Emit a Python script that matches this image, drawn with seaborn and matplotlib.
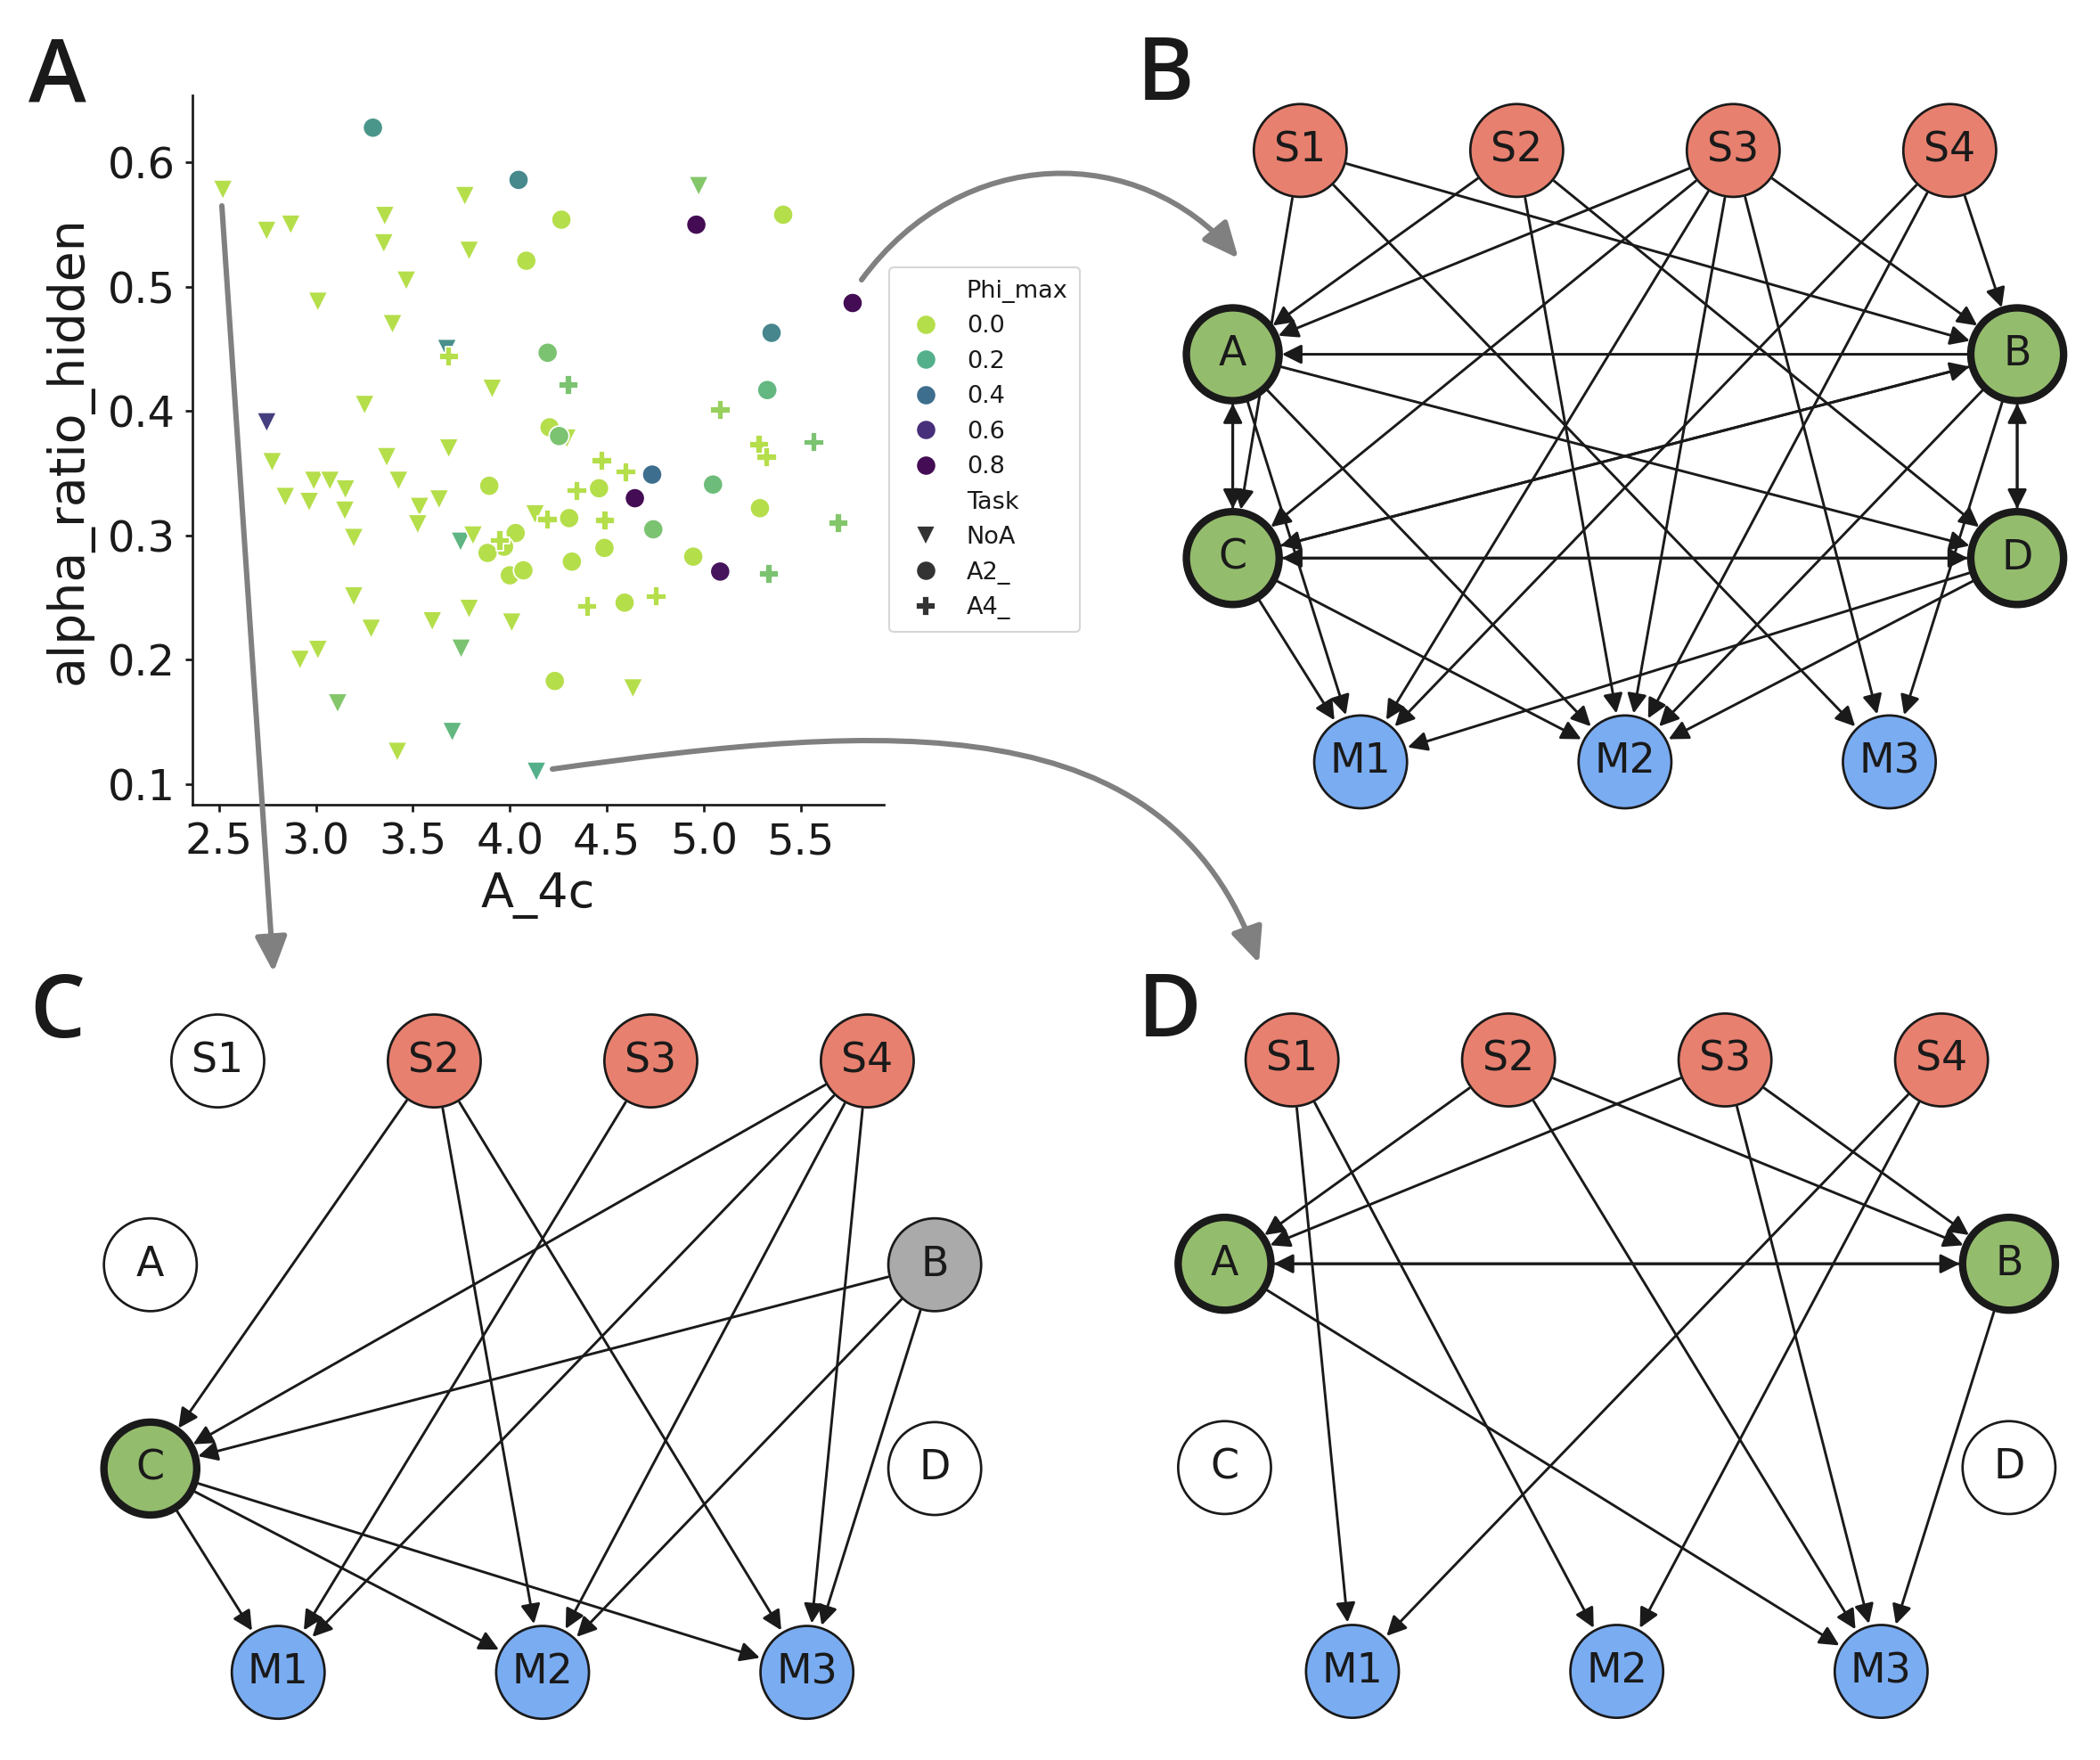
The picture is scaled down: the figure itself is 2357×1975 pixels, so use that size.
import numpy as np
import pandas as pd
import matplotlib
matplotlib.use("Agg")
import matplotlib.pyplot as plt
from matplotlib.colors import LinearSegmentedColormap
from matplotlib.patches import FancyArrowPatch, ArrowStyle
from matplotlib.lines import Line2D
from matplotlib.path import Path
import seaborn as sns

W, H, DPI = 2357, 1975, 150

# ── Panel A data ──────────────────────────────────────────────────────────────
noa_x = [2.52, 2.746, 2.87, 3.01, 3.355, 3.35, 3.466, 3.395, 3.768, 3.79,
         3.675, 3.909, 3.251, 2.746, 2.774, 2.842, 2.965, 2.989, 3.072, 3.152,
         3.149, 3.195, 3.365, 3.426, 3.685, 3.635, 3.534, 3.525, 3.746, 3.81,
         4.13, 3.195, 3.285, 3.60, 3.79, 4.01, 2.918, 3.01, 3.749, 3.112,
         3.42, 3.703, 4.137, 4.974, 4.635, 4.294]
noa_y = [0.578, 0.545, 0.550, 0.488, 0.557, 0.535, 0.505, 0.470, 0.573, 0.529,
         0.450, 0.418, 0.405, 0.391, 0.359, 0.331, 0.327, 0.344, 0.344, 0.337,
         0.320, 0.298, 0.363, 0.344, 0.370, 0.329, 0.323, 0.309, 0.295, 0.300,
         0.317, 0.251, 0.225, 0.231, 0.241, 0.230, 0.200, 0.208, 0.209, 0.165,
         0.126, 0.142, 0.110, 0.581, 0.177, 0.378]
noa_phi = [0, 0, 0, 0, 0, 0, 0, 0, 0, 0,
           0.3, 0, 0, 0.55, 0, 0, 0, 0, 0, 0,
           0, 0, 0, 0, 0, 0, 0, 0, 0.18, 0,
           0, 0, 0, 0, 0, 0, 0, 0, 0.12, 0.1,
           0, 0.17, 0.2, 0.1, 0, 0]

a2_x = [3.294, 4.045, 4.266, 4.085, 4.962, 5.41, 5.768, 5.35, 4.195, 5.328,
        4.205, 4.254, 3.894, 4.46, 4.306, 4.734, 4.645, 5.048, 4.74, 5.29,
        4.488, 4.946, 5.085, 4.03, 3.97, 3.885, 4.0, 4.07, 4.32, 4.592, 4.232]
a2_y = [0.628, 0.586, 0.554, 0.521, 0.550, 0.558, 0.487, 0.463, 0.447, 0.417,
        0.387, 0.380, 0.340, 0.338, 0.314, 0.349, 0.330, 0.341, 0.305, 0.322,
        0.290, 0.283, 0.271, 0.302, 0.291, 0.286, 0.268, 0.272, 0.279, 0.246, 0.183]
a2_phi = [0.28, 0.32, 0, 0, 0.8, 0, 0.8, 0.33, 0.12, 0.17,
          0, 0.12, 0, 0, 0, 0.4, 0.8, 0.15, 0.12, 0,
          0, 0, 0.75, 0, 0, 0, 0, 0, 0, 0, 0]

a4_x = [3.685, 4.303, 5.085, 5.285, 5.325, 5.568, 4.475, 4.598, 4.346, 4.49,
        4.195, 3.949, 5.694, 5.337, 4.40, 4.755]
a4_y = [0.444, 0.421, 0.401, 0.373, 0.363, 0.375, 0.360, 0.351, 0.336, 0.312,
        0.313, 0.296, 0.310, 0.269, 0.243, 0.251]
a4_phi = [0, 0.12, 0.06, 0, 0, 0.12, 0, 0, 0, 0,
          0, 0, 0.1, 0.12, 0, 0]

task_order = ["NoA", "A2_", "A4_"]
task_markers = {"NoA": "v", "A2_": "o", "A4_": "P"}
phi_levels = [0.0, 0.2, 0.4, 0.6, 0.8]
phi_labels = ["0.0", "0.2", "0.4", "0.6", "0.8"]
phi_colors = ["#b5de4b", "#54b08a", "#3e6f8d", "#472f7b", "#440c54"]

x_ticks = [2.5, 3.0, 3.5, 4.0, 4.5, 5.0, 5.5]
y_ticks = [0.1, 0.2, 0.3, 0.4, 0.5, 0.6]

# ── Network data ──────────────────────────────────────────────────────────────
node_names = ["S1", "S2", "S3", "S4", "A", "B", "C", "D", "M1", "M2", "M3"]
node_col = [0.086, 0.362, 0.638, 0.914, 0.0, 1.0, 0.0, 1.0, 0.163, 0.5, 0.837]
node_row = [0, 0, 0, 0, 1, 1, 2, 2, 3, 3, 3]

RED, GREEN, BLUE, GREY, WHITE = "#e8806f", "#94bc6d", "#7aacf2", "#aaaaaa", "#ffffff"

fills_B = [RED, RED, RED, RED, GREEN, GREEN, GREEN, GREEN, BLUE, BLUE, BLUE]
fills_C = [WHITE, RED, RED, RED, WHITE, GREY, GREEN, WHITE, BLUE, BLUE, BLUE]
fills_D = [RED, RED, RED, RED, GREEN, GREEN, WHITE, WHITE, BLUE, BLUE, BLUE]

edges_B = [("S1", "C"), ("S1", "B"), ("S1", "M3"),
           ("S2", "A"), ("S2", "M2"), ("S2", "D"),
           ("S3", "A"), ("S3", "C"), ("S3", "M1"), ("S3", "M2"), ("S3", "M3"), ("S3", "B"),
           ("S4", "B"), ("S4", "M1"), ("S4", "M2"),
           ("A", "C"), ("C", "A"), ("B", "A"), ("A", "D"), ("A", "M1"), ("A", "M2"),
           ("B", "D"), ("D", "B"), ("B", "C"), ("C", "B"), ("B", "M2"), ("B", "M3"),
           ("C", "D"), ("D", "C"), ("C", "M1"), ("C", "M2"),
           ("D", "M1"), ("D", "M2")]

edges_C = [("S2", "C"), ("S2", "M2"), ("S2", "M3"),
           ("S3", "M1"),
           ("S4", "C"), ("S4", "M1"), ("S4", "M2"), ("S4", "M3"),
           ("B", "C"), ("B", "M2"), ("B", "M3"),
           ("C", "M1"), ("C", "M2"), ("C", "M3")]

edges_D = [("S1", "M1"), ("S1", "M2"),
           ("S2", "A"), ("S2", "B"), ("S2", "M3"),
           ("S3", "A"), ("S3", "B"), ("S3", "M3"),
           ("S4", "M1"), ("S4", "M2"),
           ("A", "B"), ("B", "A"), ("A", "M3"), ("B", "M3")]


def px_rect(left, top, width, height):
    return [left / W, 1 - (top + height) / H, width / W, height / H]


def fig_pt(x, y):
    return (x / W, 1 - y / H)


# ── Network drawing ───────────────────────────────────────────────────────────
def draw_network(ax, fills, edges):
    pos = {n: (c, r) for n, c, r in zip(node_names, node_col, node_row)}
    for src, dst in edges:
        ax.add_patch(FancyArrowPatch(pos[src], pos[dst], arrowstyle="-|>",
                                     mutation_scale=22, shrinkA=26, shrinkB=26.5,
                                     lw=1.4, color="k", zorder=1))
    lws = [4.0 if f == GREEN else 1.3 for f in fills]
    ax.scatter(node_col, node_row, s=2500, c=fills, edgecolors="k",
               linewidths=lws, zorder=2)
    for n, c, r in zip(node_names, node_col, node_row):
        ax.text(c, r, n, ha="center", va="center", fontsize=22, color="k", zorder=3)
    ax.set_xlim(-0.1, 1.1)
    ax.set_ylim(3.5, -0.5)
    ax.axis("off")


# ── Figure ────────────────────────────────────────────────────────────────────
sns.set_theme(style="ticks")
plt.rcParams["font.family"] = ["DejaVu Sans"]
plt.rcParams.update({"text.color": "k", "axes.labelcolor": "k",
                     "xtick.color": "k", "ytick.color": "k"})

fig = plt.figure(figsize=(W / DPI, H / DPI), dpi=DPI)

df = pd.DataFrame({
    "A_4c": noa_x + a2_x + a4_x,
    "alpha_ratio_hidden": noa_y + a2_y + a4_y,
    "Phi_max": noa_phi + a2_phi + a4_phi,
    "Task": ["NoA"] * len(noa_x) + ["A2_"] * len(a2_x) + ["A4_"] * len(a4_x),
})

phi_cmap = LinearSegmentedColormap.from_list(
    "phi", list(zip(np.array(phi_levels) / 0.8, phi_colors)))

ax = fig.add_axes(px_rect(216, 107, 776, 796))
sns.scatterplot(data=df, x="A_4c", y="alpha_ratio_hidden", hue="Phi_max",
                style="Task", style_order=task_order, markers=task_markers,
                palette=phi_cmap, hue_norm=(0, 0.8), s=115, legend=False, ax=ax)
ax.set_xlim(2.363, 5.929)
ax.set_ylim(0.0835, 0.654)
ax.set_xticks(x_ticks)
ax.set_yticks(y_ticks)
ax.tick_params(labelsize=23, length=4, width=1.3, pad=5, color="k")
ax.set_xlabel("A_4c", fontsize=26, labelpad=5)
ax.set_ylabel("alpha_ratio_hidden", fontsize=26.5, labelpad=8)
for side in ["left", "bottom"]:
    ax.spines[side].set_linewidth(1.3)
    ax.spines[side].set_color("k")
sns.despine(ax=ax)

# legend laid out like seaborn's brief legend (subtitle rows + entries)
ms = np.sqrt(115)
handles, labels = [Line2D([], [], ls="", marker="")], ["Phi_max"]
for lev, lab in zip(phi_levels, phi_labels):
    handles.append(Line2D([], [], ls="", marker="o", ms=ms, mfc=phi_cmap(lev / 0.8),
                          mec="w", mew=0.85))
    labels.append(lab)
handles.append(Line2D([], [], ls="", marker=""))
labels.append("Task")
for t in task_order:
    handles.append(Line2D([], [], ls="", marker=task_markers[t], ms=ms, mfc=".2",
                          mec="w", mew=0.85))
    labels.append(t)
ax.legend(handles, labels, loc="upper left", bbox_to_anchor=(1.008, 0.7575),
          borderaxespad=0, fontsize=13, frameon=True, labelspacing=0.5,
          borderpad=0.5, handletextpad=0.7)

ax_b = fig.add_axes(px_rect(1295.6, 54.5, 1056.5, 914.8))
draw_network(ax_b, fills_B, edges_B)
ax_c = fig.add_axes(px_rect(80.7, 1076.2, 1056.5, 914.8))
draw_network(ax_c, fills_C, edges_C)
ax_d = fig.add_axes(px_rect(1286.4, 1075.1, 1056.5, 914.8))
draw_network(ax_d, fills_D, edges_D)

# ── Grey connector arrows ─────────────────────────────────────────────────────
head = ArrowStyle("-|>", head_length=1.0, head_width=0.45)
connectors = [
    ([(249, 231), (307, 1091)], [Path.MOVETO, Path.LINETO]),
    ([(967, 314), (1080, 160), (1280, 160), (1390, 290)],
     [Path.MOVETO, Path.CURVE4, Path.CURVE4, Path.CURVE4]),
    ([(620, 863), (1000, 810), (1310, 790), (1413, 1081)],
     [Path.MOVETO, Path.CURVE4, Path.CURVE4, Path.CURVE4]),
]
for verts, codes in connectors:
    path = Path([fig_pt(x, y) for x, y in verts], codes)
    arr = FancyArrowPatch(path=path, arrowstyle=head, mutation_scale=16,
                          color="#808080", lw=2.9, transform=fig.transFigure,
                          zorder=5)
    fig.add_artist(arr)

# ── Panel letters ─────────────────────────────────────────────────────────────
for letter, x, y in [("A", 32, 114), ("B", 1276, 112), ("C", 33, 1164), ("D", 1277, 1163)]:
    fx, fy = fig_pt(x, y)
    fig.text(fx, fy, letter, fontsize=47, family="Open Sans", fontweight="semibold",
             ha="left", va="baseline")

fig.savefig("out.png", dpi=DPI)
